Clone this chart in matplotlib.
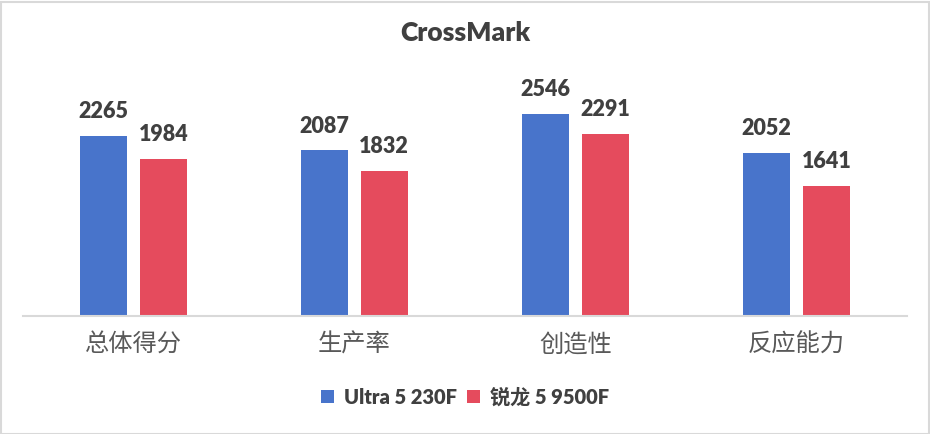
import matplotlib
matplotlib.use("Agg")
import matplotlib.pyplot as plt
from matplotlib.patches import Rectangle
import numpy as np

categories = ["总体得分", "生产率", "创造性", "反应能力"]
series_names = ["Ultra 5 230F", "锐龙 5 9500F"]
ultra = [2265, 2087, 2546, 2052]
ryzen = [1984, 1832, 2291, 1641]
title = "CrossMark"

colors = ["#4874CB", "#E54B5D"]
plt.rcParams['font.family'] = ['Lato', 'Noto Sans CJK SC', 'DejaVu Sans']

fig = plt.figure(figsize=(9.3, 4.34), dpi=100)
ax = fig.add_axes([23/930, (434-316)/434, 884/930, 238/434])

x = np.arange(len(categories))
w = 0.21
off = 0.135
b1 = ax.bar(x - off, ultra, w, color=colors[0], label=series_names[0], zorder=2)
b2 = ax.bar(x + off, ryzen, w, color=colors[1], label=series_names[1], zorder=2)

for bars in (b1, b2):
    for r in bars:
        ax.annotate(f"{int(r.get_height())}", (r.get_x() + r.get_width()/2, r.get_height()),
                    xytext=(0, 10), textcoords="offset points", ha="center", va="bottom",
                    fontsize=15.5, fontweight="heavy", color="#404040")

ax.set_xlim(-0.5, 3.5)
ax.set_ylim(0, 3000)
for s in ["top", "left", "right"]:
    ax.spines[s].set_visible(False)
ax.spines["bottom"].set_color("#D9D9D9")
ax.spines["bottom"].set_linewidth(1.5)
ax.set_yticks([])
ax.set_xticks(x)
ax.set_xticklabels(categories, fontsize=17.5, color="#595959", family=['Noto Sans CJK SC', 'DejaVu Sans'])
ax.tick_params(axis="x", length=0, pad=11)

fig.text(465/930, 1 - 33/434, title, ha="center", va="center", fontsize=19,
         fontweight="heavy", color="#404040")

leg = fig.legend(loc="center", bbox_to_anchor=(465/930, 1 - 397/434), ncol=2, frameon=False,
                 prop={'size': 14.5, 'weight': 'heavy'}, handlelength=0.65, handleheight=0.65,
                 handletextpad=0.5, columnspacing=0.5)
for t in leg.get_texts():
    t.set_color("#404040")

fig.patches.append(Rectangle((0.5/930, 0.5/434), 1 - 2/930, 1 - 2/434, transform=fig.transFigure,
                             fill=False, edgecolor="#D9D9D9", linewidth=1.5))

fig.savefig("out.png", dpi=100)
